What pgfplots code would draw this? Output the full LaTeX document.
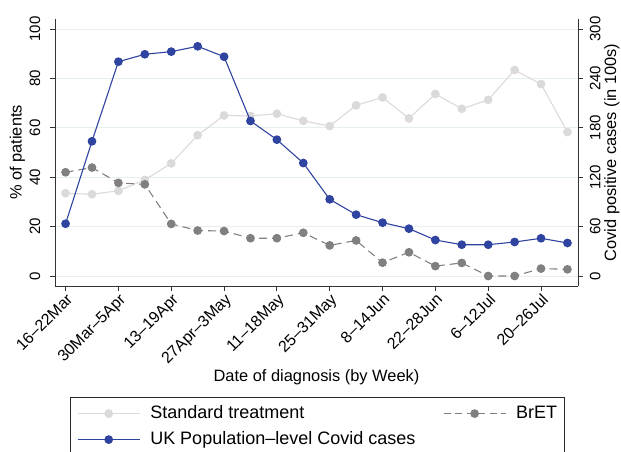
\documentclass[border=0pt]{standalone}
\usepackage{fontspec}
\setmainfont{Liberation Sans}
\usepackage{pgfplots}
\pgfplotsset{compat=1.18}
\definecolor{stdgrey}{HTML}{DADADA}
\definecolor{bretgrey}{HTML}{808080}
\definecolor{ukblue}{HTML}{2E44A0}
\definecolor{gridc}{HTML}{E6EFF0}
\pgfplotsset{
  common/.style={
    width=523pt, height=267pt, scale only axis,
    at={(55pt,165pt)}, anchor=south west,
    xmin=-0.4, xmax=19.4,
    /pgf/number format/assume math mode=true,
    tick align=outside, major tick length=5pt,
    axis line style={black!80, line width=0.8pt, -},
    every tick/.style={black!80, line width=0.8pt},
    tick label style={font=\fontsize{15}{17}\selectfont},
    label style={font=\fontsize{16.4}{18}\selectfont},
  },
  legend image code/.code={\draw[mark repeat=2,mark phase=2,#1] plot coordinates {(0pt,0pt) (31pt,0pt) (62pt,0pt)};},
}
\begin{document}
\begin{tikzpicture}[x=1pt,y=1pt]
\path[use as bounding box] (0,0) rectangle (621,451);
\begin{axis}[common,
  ymin=-4.05, ymax=104.05,
  axis x line*=bottom, axis y line*=left,
  ytick={0,20,...,100},
  ymajorgrids, grid style={gridc, line width=0.9pt},
  xtick={0,2,...,18},
  xticklabels={16--22Mar,30Mar--5Apr,13--19Apr,27Apr--3May,11--18May,25--31May,8--14Jun,22--28Jun,6--12Jul,20--26Jul},
  xticklabel style={rotate=45, anchor=north east, inner sep=1pt, font=\fontsize{16}{18}\selectfont},
  yticklabel style={rotate=90, anchor=south, inner ysep=9.6pt},
  ylabel={\% of patients},
  ylabel style={at={(axis description cs:-0.0717,0.5)}, anchor=center},
  xlabel={Date of diagnosis (by Week)},
  xlabel style={at={(axis description cs:0.5,-0.3408)}, anchor=center},
]
\addplot[stdgrey, line width=1.1pt, mark=*, mark size=3.8pt, mark options={solid, fill=stdgrey, draw=stdgrey}] coordinates {
(0,33.5) (1,33.1) (2,34.5) (3,38.9) (4,45.6) (5,57.0) (6,65.0) (7,64.8) (8,65.7) (9,62.8)
(10,60.7) (11,69.1) (12,72.3) (13,63.8) (14,73.7) (15,67.7) (16,71.3) (17,83.4) (18,77.7) (19,58.3)};
\addplot[bretgrey, line width=1.1pt, dash pattern=on 8pt off 5pt, mark=*, mark size=3.8pt, mark options={solid, fill=bretgrey, draw=bretgrey}] coordinates {
(0,42.0) (1,43.9) (2,37.7) (3,37.1) (4,21.1) (5,18.4) (6,18.2) (7,15.3) (8,15.3) (9,17.5)
(10,12.4) (11,14.4) (12,5.4) (13,9.6) (14,4.0) (15,5.3) (16,0) (17,0) (18,3.0) (19,2.7)};
\end{axis}
\begin{axis}[common,
  ymin=-12.15, ymax=312.15,
  axis y line*=right, axis x line=none,
  ytick={0,60,...,300},
  yticklabel style={rotate=90, anchor=north, inner ysep=6.6pt},
  ylabel={Covid positive cases (in 100s)},
  ylabel style={at={(axis description cs:1.065,0.5)}, anchor=center},
  legend columns=2,
  legend cell align=left,
  legend style={at={(axis description cs:0.5013,-0.4146)}, anchor=north,
    draw=black!85, line width=0.8pt, inner xsep=6.7pt, inner ysep=8pt,
    font=\fontsize{18}{20}\selectfont,
    nodes={inner sep=0pt, text height=13pt, text depth=4pt},
    column sep=10pt, row sep=9pt,
    /tikz/every even column/.append style={column sep=27.7pt}},
]
\addlegendimage{stdgrey, line width=1.1pt, mark=*, mark size=3.8pt, mark options={solid, fill=stdgrey, draw=stdgrey}}
\addlegendentry{Standard treatment}
\addlegendimage{bretgrey, line width=1.1pt, dash pattern=on 7pt off 4.5pt, mark=*, mark size=3.8pt, mark options={solid, fill=bretgrey, draw=bretgrey}}
\addlegendentry{BrET}
\addplot[ukblue, line width=1.1pt, mark=*, mark size=3.8pt, mark options={solid, fill=ukblue, draw=ukblue}] coordinates {
(0,63.5) (1,163.6) (2,260.3) (3,269.3) (4,272.5) (5,279.0) (6,266.4) (7,188.3) (8,165.6) (9,137.2)
(10,93.1) (11,74.5) (12,64.8) (13,57.5) (14,43.7) (15,38.0) (16,38.0) (17,41.3) (18,45.8) (19,40.1)};
\addlegendentry{UK Population--level Covid cases}
\end{axis}
\end{tikzpicture}
\end{document}
